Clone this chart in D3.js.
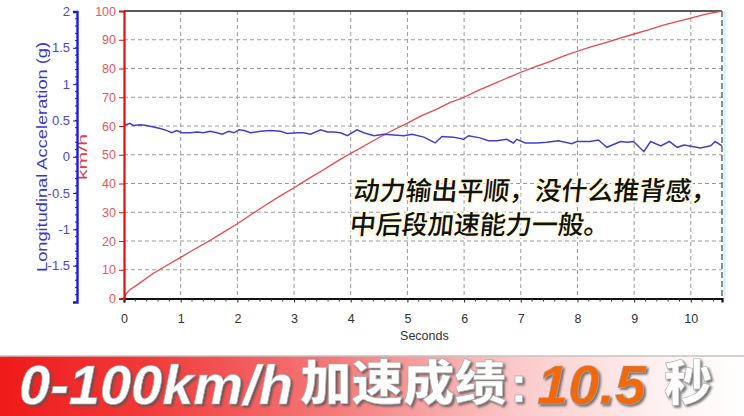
<!DOCTYPE html>
<html><head><meta charset="utf-8">
<script src="https://cdn.jsdelivr.net/npm/d3@7"></script>
<style>
html,body{margin:0;padding:0;background:#fff;}
svg{display:block;}
</style></head>
<body>
<svg id="c" width="744" height="416"></svg>
<script>
// ---- data ----
const speedT = [0,0.03,0.1,0.25,0.5,0.75,1,1.25,1.5,1.75,2,2.25,2.5,2.75,3,3.25,3.5,3.75,4,4.25,4.5,4.75,5,5.25,5.5,5.75,6,6.25,6.5,6.75,7,7.25,7.5,7.75,8,8.25,8.5,8.75,9,9.25,9.5,9.75,10,10.25,10.55];
const speedV = [0,1.5,3,5,8.5,11.5,14.3,17.2,20,23,26,29.3,32.5,35.6,38.5,41.6,44.5,47.6,50.5,53.2,56,58.6,61,63.6,65.7,68.1,70,72.4,74.5,76.6,78.7,80.6,82.3,84.3,86,87.6,89,90.6,92,93.4,95,96.3,97.5,98.8,100];
const accT = [0,0.04,0.1,0.17,0.29,0.4,0.52,0.64,0.76,0.84,0.93,1.02,1.17,1.29,1.4,1.52,1.64,1.73,1.85,1.94,2.03,2.12,2.23,2.41,2.59,2.76,2.88,3.06,3.17,3.29,3.47,3.59,3.7,3.82,3.94,4.11,4.23,4.41,4.59,4.76,4.94,5.08,5.29,5.49,5.61,5.81,5.99,6.08,6.28,6.43,6.58,6.75,6.87,6.93,7.08,7.28,7.46,7.66,7.9,7.99,8.22,8.37,8.52,8.76,8.88,8.99,9.17,9.29,9.47,9.62,9.76,9.88,10.03,10.17,10.35,10.43,10.55];
const accG = [0.43,0.44,0.46,0.43,0.44,0.43,0.41,0.39,0.36,0.33,0.36,0.33,0.33,0.34,0.33,0.35,0.33,0.31,0.35,0.33,0.37,0.36,0.33,0.35,0.36,0.35,0.32,0.33,0.33,0.31,0.37,0.34,0.34,0.33,0.29,0.37,0.33,0.29,0.31,0.30,0.29,0.31,0.27,0.19,0.28,0.27,0.24,0.29,0.26,0.22,0.22,0.24,0.19,0.24,0.19,0.19,0.20,0.22,0.18,0.21,0.21,0.23,0.13,0.21,0.20,0.21,0.07,0.21,0.15,0.21,0.13,0.16,0.14,0.12,0.15,0.21,0.15];
const xTicks = [0,1,2,3,4,5,6,7,8,9,10];
const speedTicks = [0,10,20,30,40,50,60,70,80,90,100];
const accTicks = [2,1.5,1,0.5,0,-0.5,-1,-1.5];
const accTitle = "Longitudinal Acceleration (g)";
const speedTitle = "km/h";
const xTitle = "Seconds";
const note = ["动力输出平顺，没什么推背感，","中后段加速能力一般。"];
const banner = {a:"0-100km/h", b:"加速成绩", colon:":", c:"10.5", d:"秒"};

// ---- scales ----
const svg = d3.select("#c");
const X0 = 124, X1 = 722, Y0 = 298.5, Y1 = 11;
const x = d3.scaleLinear().domain([0,10.55]).range([X0,X1]);
const yK = d3.scaleLinear().domain([0,100]).range([Y0,Y1]);
const yA = d3.scaleLinear().domain([-2,2]).range([302,11.5]);
const LAT = "Liberation Sans, Arial, sans-serif";
const CJK = "Noto Sans CJK SC, sans-serif";

// grid
const grid = svg.append("g").attr("stroke","#9a9a9a").attr("stroke-dasharray","4,3").attr("stroke-width",1);
speedTicks.filter(d=>d>0&&d<100).forEach(d=>{
  grid.append("line").attr("x1",X0).attr("x2",X1).attr("y1",yK(d)).attr("y2",yK(d));
});
xTicks.filter(d=>d>0).forEach(d=>{
  grid.append("line").attr("x1",x(d)).attr("x2",x(d)).attr("y1",Y1).attr("y2",Y0);
});
// right edge
svg.append("line").attr("x1",X1+2.5).attr("x2",X1+2.5).attr("y1",Y1).attr("y2",Y0).attr("stroke","#c8f4f8").attr("stroke-width",2);
svg.append("line").attr("x1",X1).attr("x2",X1).attr("y1",Y1).attr("y2",Y0).attr("stroke","#444").attr("stroke-dasharray","6,3").attr("stroke-width",1.2);
// top border
svg.append("line").attr("x1",X0).attr("x2",X1).attr("y1",Y1).attr("y2",Y1).attr("stroke","#222").attr("stroke-width",1.5);

// lines
const lineK = d3.line().x((d,i)=>x(speedT[i])).y(d=>yK(d));
svg.append("path").attr("d",lineK(speedV)).attr("fill","none").attr("stroke","#e84848").attr("stroke-width",1.3);
const lineA = d3.line().x((d,i)=>x(accT[i])).y(d=>yA(d));
svg.append("path").attr("d",lineA(accG)).attr("fill","none").attr("stroke","#4040c8").attr("stroke-width",1.5);

// x axis
const xa = svg.append("g").attr("transform",`translate(0,${Y0})`)
  .call(d3.axisBottom(x).tickValues(xTicks).tickSize(4).tickPadding(12).tickFormat(d3.format("d")));
xa.select(".domain").attr("stroke","#111").attr("stroke-width",2.2);
xa.selectAll(".tick line").attr("stroke","#222");
xa.selectAll("text").attr("font-family",LAT).attr("font-size",12.5).attr("fill","#333");
const minor = d3.range(0,10.55,0.2).filter(v=>Math.abs(v-Math.round(v))>0.01);
svg.append("g").selectAll("line").data(minor).join("line")
  .attr("x1",d=>x(d)).attr("x2",d=>x(d)).attr("y1",Y0).attr("y2",Y0+3).attr("stroke","#333");
svg.append("text").attr("x",x(5.3)).attr("y",340).attr("text-anchor","middle")
  .attr("font-family",LAT).attr("font-size",12.5).attr("fill","#333").text(xTitle);

// speed axis (red)
const ka = svg.append("g").attr("transform",`translate(${X0},0)`)
  .call(d3.axisLeft(yK).tickValues(speedTicks).tickSize(5).tickPadding(3));
ka.select(".domain").attr("stroke","#e01010").attr("stroke-width",2.2);
ka.selectAll(".tick line").attr("stroke","#e01010");
ka.selectAll("text").attr("font-family",LAT).attr("font-size",12.5).attr("fill","#e85858");
svg.append("text").attr("transform",`translate(87,157) rotate(-90)`).attr("text-anchor","middle")
  .attr("font-family",LAT).attr("font-size",12).attr("fill","#e04040")
  .attr("textLength",46).attr("lengthAdjust","spacingAndGlyphs").text(speedTitle);

// acceleration axis (blue)
const aa = svg.append("g").attr("transform","translate(77,0)")
  .call(d3.axisLeft(yA).tickValues(accTicks).tickSize(4).tickPadding(3).tickFormat(d=>String(d)));
aa.select(".domain").attr("stroke","#1c1cd8").attr("stroke-width",2.4);
aa.selectAll(".tick line").attr("stroke","#1c1cd8");
aa.selectAll("text").attr("font-family",LAT).attr("font-size",13).attr("fill","#4a4ac8");
const aMinor = d3.range(-2,2.01,0.1);
svg.append("g").selectAll("line").data(aMinor).join("line")
  .attr("x1",75).attr("x2",77).attr("y1",d=>yA(d)).attr("y2",d=>yA(d)).attr("stroke","#1c1cd8");
svg.append("text").attr("transform",`translate(47,157) rotate(-90)`).attr("text-anchor","middle")
  .attr("font-family",LAT).attr("font-size",14).attr("fill","#3a3acc")
  .attr("textLength",230).attr("lengthAdjust","spacingAndGlyphs").text(accTitle);

// annotation
const sk = 6, tx = 351 + Math.tan(sk*Math.PI/180)*216;
const ng = svg.append("g").attr("transform",`translate(${tx},0) skewX(-${sk})`);
note.forEach((s,i)=>{
  ng.append("text").attr("x",0).attr("y",200+i*34)
    .attr("font-family",CJK).attr("font-size",26).attr("font-weight",500)
    .attr("fill","#111").attr("stroke","#fffbe2").attr("stroke-width",4).attr("paint-order","stroke")
    .attr("stroke-linejoin","round").text(s);
});

// banner
const defs = svg.append("defs");
const gr = defs.append("linearGradient").attr("id","bg").attr("x1","0").attr("x2","1").attr("y1","0").attr("y2","0");
[[0,"#ef1a1a"],[0.2,"#f23a3a"],[0.45,"#f57a7a"],[0.7,"#fbcaca"],[0.88,"#fff0f0"],[1,"#ffffff"]].forEach(s=>{
  gr.append("stop").attr("offset",s[0]).attr("stop-color",s[1]);
});
const flt = defs.append("filter").attr("id","sh").attr("x","-5%").attr("y","-20%").attr("width","110%").attr("height","140%");
flt.append("feDropShadow").attr("dx",2).attr("dy",2).attr("stdDeviation",0.8).attr("flood-color","#555").attr("flood-opacity",0.8);
svg.append("rect").attr("x",0).attr("y",356).attr("width",744).attr("height",60).attr("fill","url(#bg)");
svg.append("line").attr("x1",0).attr("x2",744).attr("y1",356).attr("y2",356).attr("stroke","#c9c0c0").attr("stroke-width",1.5);

const bg = svg.append("g").attr("filter","url(#sh)").attr("stroke","#a8a8a8").attr("stroke-width",0.6).attr("font-weight","bold");
bg.append("text").attr("x",19).attr("y",404).attr("font-family",LAT).attr("font-style","italic").attr("font-size",56).attr("fill","#fff").text(banner.a);
bg.append("text").attr("x",300).attr("y",400).attr("font-family",CJK).attr("font-weight",900).attr("font-size",48).attr("fill","#fff")
  .attr("textLength",206).attr("lengthAdjust","spacingAndGlyphs").text(banner.b);
bg.append("text").attr("x",510).attr("y",402).attr("font-family",LAT).attr("font-size",52).attr("fill","#fff").text(banner.colon);
bg.append("text").attr("x",537).attr("y",404).attr("font-family",LAT).attr("font-style","italic").attr("font-size",56).attr("fill","#f2680c").text(banner.c);
bg.append("text").attr("x",664).attr("y",400).attr("font-family",CJK).attr("font-weight",900).attr("font-size",48).attr("fill","#fff").text(banner.d);
</script>
</body></html>
